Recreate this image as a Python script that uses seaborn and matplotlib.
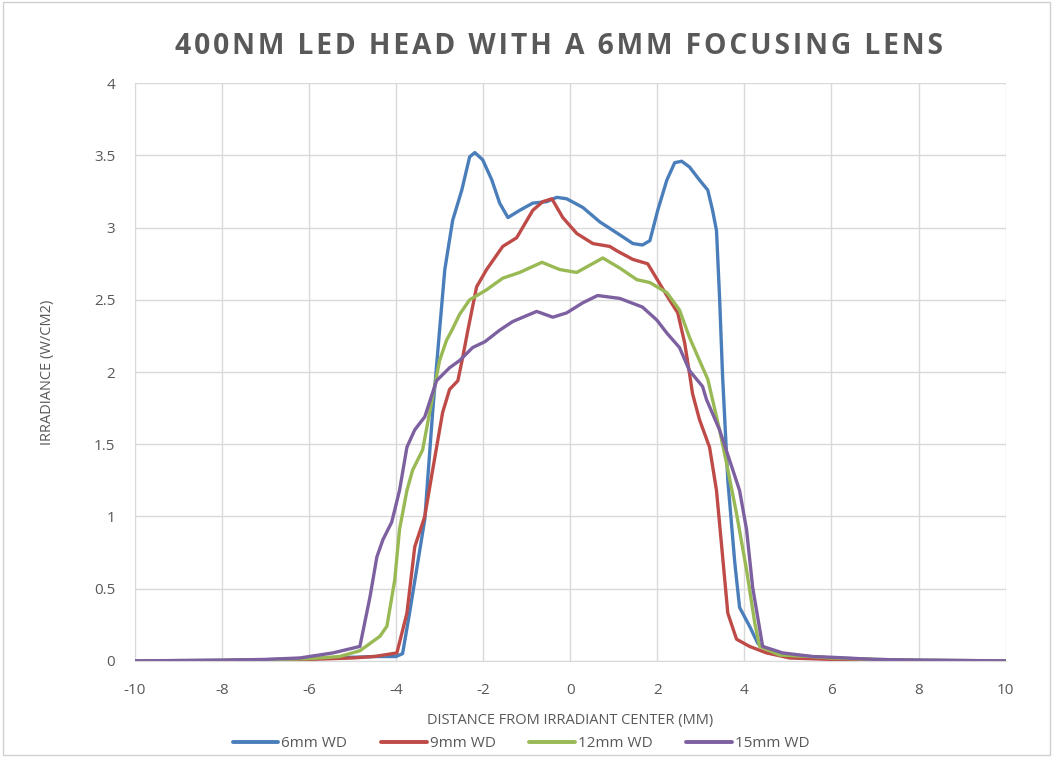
import pandas as pd
import numpy as np
import matplotlib.pyplot as plt
import seaborn as sns

# values
x_6mm = [-10, -8, -7, -6, -5, -4.5, -4.0, -3.85, -3.69, -3.34, -3.16, -3.0, -2.88, -2.70, -2.49,
         -2.31, -2.19, -2.01, -1.80, -1.62, -1.43, -1.16, -0.86, -0.54, -0.31, -0.08, 0.29, 0.68,
         1.14, 1.44, 1.66, 1.83, 2.01, 2.22, 2.40, 2.56, 2.74, 2.97, 3.16, 3.27, 3.36, 3.43, 3.50,
         3.62, 3.78, 3.89, 4.12, 4.31, 4.65, 5, 6, 7, 8, 10]
y_6mm = [0, 0.003, 0.008, 0.015, 0.025, 0.03, 0.03, 0.05, 0.33, 0.98, 1.72, 2.29, 2.71, 3.05, 3.26,
         3.49, 3.52, 3.47, 3.33, 3.17, 3.07, 3.12, 3.17, 3.18, 3.21, 3.20, 3.14, 3.04,
         2.95, 2.89, 2.88, 2.91, 3.12, 3.33, 3.45, 3.46, 3.42, 3.33, 3.26, 3.12, 2.98, 2.52, 1.97,
         1.25, 0.68, 0.37, 0.24, 0.12, 0.06, 0.04, 0.02, 0.01, 0.004, 0]

x_9mm = [-10, -8, -7, -6, -5, -4.5, -3.98, -3.75, -3.57, -3.34, -3.16, -2.93, -2.77, -2.58, -2.47,
         -2.35, -2.15, -1.92, -1.55, -1.23, -0.86, -0.63, -0.42, -0.17, 0.15, 0.52, 0.91, 1.07,
         1.44, 1.78, 2.06, 2.28, 2.47, 2.63, 2.74, 2.81, 2.97, 3.20, 3.36, 3.48, 3.62, 3.82, 4.12,
         4.51, 5.04, 6, 7, 8, 10]
y_9mm = [0, 0.002, 0.005, 0.01, 0.02, 0.03, 0.055, 0.33, 0.79, 1.00, 1.32, 1.72, 1.88, 1.94, 2.10,
         2.29, 2.59, 2.71, 2.87, 2.93, 3.12, 3.18, 3.20, 3.07, 2.96, 2.89, 2.87, 2.84,
         2.78, 2.75, 2.61, 2.50, 2.41, 2.20, 1.99, 1.85, 1.67, 1.48, 1.18, 0.79, 0.33, 0.15, 0.10,
         0.055, 0.02, 0.01, 0.005, 0.002, 0]

x_12mm = [-10, -8, -7, -6, -5.3, -4.83, -4.37, -4.21, -4.03, -3.92, -3.75, -3.62, -3.39, -3.16,
          -3.0, -2.84, -2.70, -2.54, -2.31, -1.92, -1.55, -1.16, -0.65, -0.24, 0.15, 0.45, 0.75,
          1.14, 1.53, 1.83, 2.22, 2.51, 2.74, 2.97, 3.16, 3.43, 3.59, 3.82, 4.05, 4.24, 4.35, 4.81,
          5.5, 6, 7, 8, 10]
y_12mm = [0, 0.003, 0.008, 0.015, 0.03, 0.07, 0.17, 0.24, 0.56, 0.91, 1.18, 1.32, 1.46, 1.83,
          2.08, 2.22, 2.30, 2.40, 2.50, 2.57, 2.65, 2.69, 2.76, 2.71, 2.69, 2.74, 2.79,
          2.72, 2.64, 2.62, 2.55, 2.43, 2.24, 2.08, 1.95, 1.60, 1.37, 1.02, 0.63, 0.26, 0.10, 0.04,
          0.03, 0.02, 0.01, 0.004, 0]

x_15mm = [-10, -8, -7, -6.21, -5.45, -4.83, -4.60, -4.44, -4.30, -4.10, -3.92, -3.75, -3.57, -3.34,
          -3.07, -2.77, -2.54, -2.24, -1.96, -1.62, -1.32, -0.77, -0.40, -0.08, 0.29, 0.63, 1.14,
          1.66, 1.99, 2.22, 2.51, 2.74, 3.04, 3.13, 3.43, 3.66, 3.89, 4.05, 4.19, 4.42, 4.88, 5.57,
          6, 7, 8, 10]
y_15mm = [0, 0.005, 0.01, 0.02, 0.055, 0.10, 0.44, 0.72, 0.84, 0.96, 1.18, 1.48, 1.60, 1.69,
          1.94, 2.03, 2.08, 2.17, 2.21, 2.29, 2.35, 2.42, 2.38, 2.41, 2.48, 2.53, 2.51,
          2.45, 2.36, 2.27, 2.17, 2.01, 1.90, 1.81, 1.60, 1.39, 1.18, 0.91, 0.51, 0.10, 0.055, 0.03,
          0.025, 0.01, 0.005, 0]

series = ['6mm WD', '9mm WD', '12mm WD', '15mm WD']
colors = ['#4A7EBB', '#BE4B48', '#98B954', '#7D60A0']
title = '400NM LED HEAD WITH A 6MM FOCUSING LENS'

frames = []
for name, xs, ys in zip(series, [x_6mm, x_9mm, x_12mm, x_15mm], [y_6mm, y_9mm, y_12mm, y_15mm]):
    frames.append(pd.DataFrame({'x': xs, 'y': ys, 'series': name}))
df = pd.concat(frames, ignore_index=True)

sns.set_style('white')
plt.rcParams['font.family'] = ['Open Sans', 'DejaVu Sans']
plt.rcParams['axes.unicode_minus'] = False

fig = plt.figure(figsize=(10.53, 7.57), dpi=100)
ax = fig.add_axes([0.128, 0.127, 0.827, 0.763])

sns.lineplot(data=df, x='x', y='y', hue='series', hue_order=series, palette=colors,
             linewidth=2.4, sort=False, estimator=None, ax=ax, legend=False)
for line in ax.lines:
    line.set_solid_joinstyle('round')
    line.set_solid_capstyle('round')

ax.set_xlim(-10, 10)
ax.set_ylim(0, 4)
ax.set_xticks(np.arange(-10, 11, 2))
ax.set_yticks(np.arange(0, 4.01, 0.5))
ax.set_yticklabels(['0', '0.5', '1', '1.5', '2', '2.5', '3', '3.5', '4'])
ax.grid(True, color='#D9D9D9', linewidth=1.0)
ax.set_axisbelow(True)
for s in ['top', 'right', 'left']:
    ax.spines[s].set_visible(False)
ax.spines['bottom'].set_color('#D9D9D9')
ax.tick_params(axis='both', length=0, labelsize=11, colors='#595959')
ax.tick_params(axis='x', pad=16)
ax.tick_params(axis='y', pad=14)

ax.set_xlabel('DISTANCE FROM IRRADIANT CENTER (MM)', fontsize=10.5, color='#595959', labelpad=11)
ax.set_ylabel('IRRADIANCE (W/CM2)', fontsize=10.5, color='#595959', labelpad=28)

# spaced-out title letters
fig.text(0.531, 0.938, '\u200a'.join(title), ha='center', va='center',
         fontsize=20.3, fontweight='bold', color='#595959')

handles = [plt.Line2D([0], [0], color=c, linewidth=2.8) for c in colors]
fig.legend(handles, series, loc='center', bbox_to_anchor=(0.495, 0.018), ncol=4, frameon=False,
           fontsize=11, labelcolor='#595959', handlelength=3.0, handletextpad=0.2, columnspacing=2.2)

fig.patches.append(plt.Rectangle((0.003, 0.003), 0.994, 0.994, transform=fig.transFigure,
                                 fill=False, edgecolor='#D0D0D0', linewidth=1.0))

plt.savefig('out.png', dpi=100)
plt.close()
